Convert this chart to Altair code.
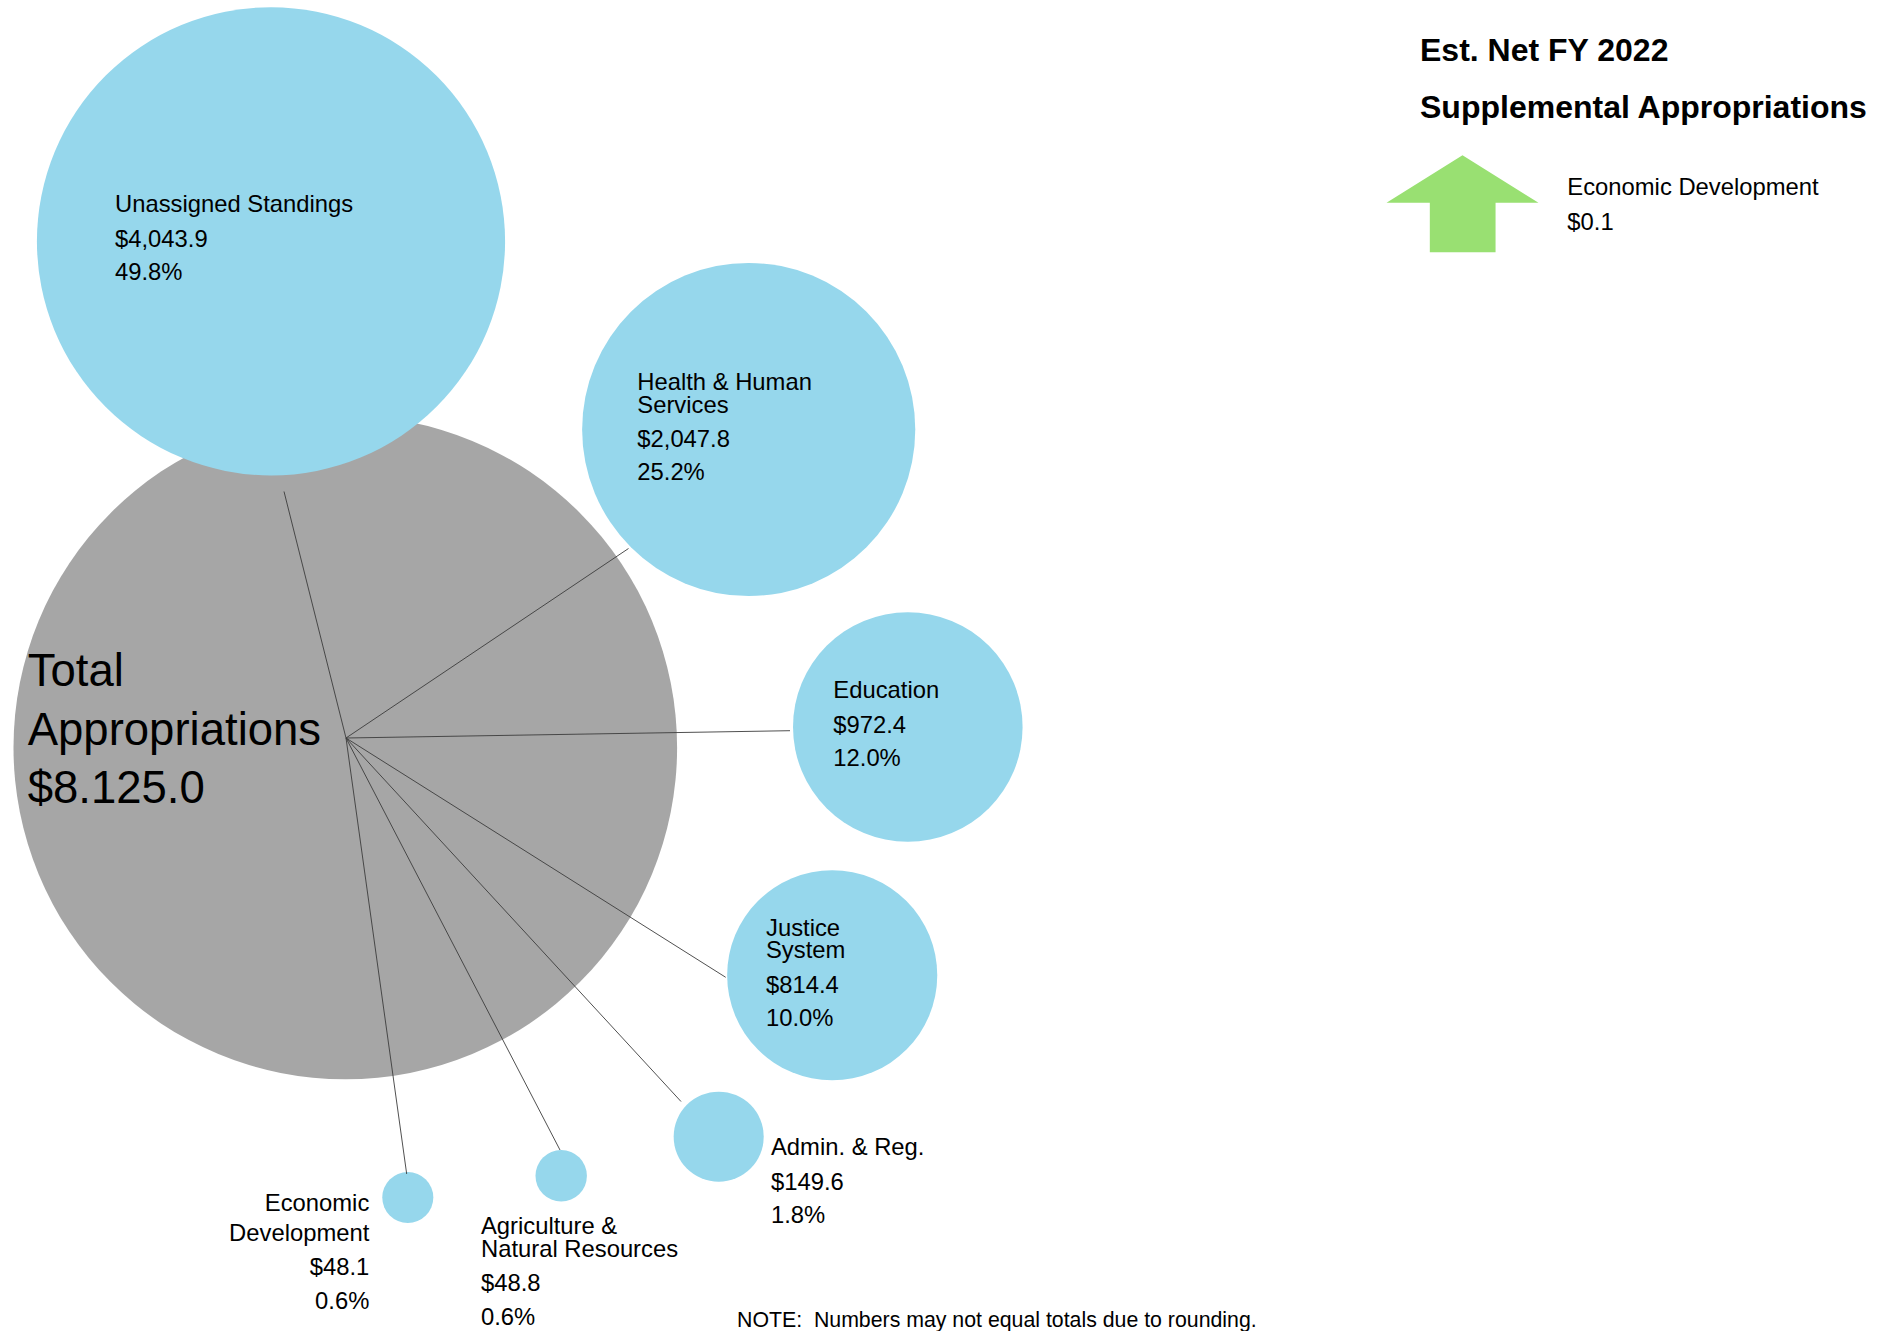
import altair as alt
import pandas as pd

# ---------------- data ----------------
categories = ["Unassigned Standings", "Health & Human\nServices", "Education",
              "Justice\nSystem", "Admin. & Reg.", "Agriculture &\nNatural Resources",
              "Economic\nDevelopment"]
values = [4043.9, 2047.8, 972.4, 814.4, 149.6, 48.8, 48.1]
percents = ["49.8%", "25.2%", "12.0%", "10.0%", "1.8%", "0.6%", "0.6%"]
total_label = ["Total", "Appropriations", "$8.125.0"]
total_value = 8125.0
supp_title = ["Est. Net FY 2022", "Supplemental Appropriations"]
supp_categories = ["Economic Development"]
supp_values = ["$0.1"]
note = "NOTE:\u00a0 Numbers may not equal totals due to rounding."

# ---------------- layout (pixel space) ----------------
W, H = 1887, 1331
centers = [(271, 241.3), (748.7, 429.5), (907.8, 727), (832.2, 975.3),
           (718.7, 1136.7), (561.2, 1175.8), (407.8, 1197.5)]
total_center = (345.3, 747.5)
hub = (346, 738)
line_ends = [(284, 491.5), (628.5, 548.5), (790, 730.7), (725.7, 977.3),
             (681, 1101.5), (560, 1150), (406.7, 1174)]
label_pos = [(115, 212, "left", 22.5), (637.3, 390, "left", 22.5), (833.3, 698.3, "left", 22.5),
             (766, 935.7, "left", 22.5), (771, 1155, "left", 22.5), (481, 1234.3, "left", 22.5),
             (369.3, 1211, "right", 29.7)]
VAL_GAP, PCT_GAP = 34.5, 33.4

BLUE = "#96D7EC"
GRAY = "#A6A6A6"
GREEN = "#99E072"
FONT = "Liberation Sans"

xs = alt.Scale(domain=[0, W], nice=False, zero=False)
ys = alt.Scale(domain=[0, H], nice=False, zero=False, reverse=True)
size_scale = alt.Scale(domain=[0, total_value], range=[0, 54.2 * total_value], zero=True)

# circles
circ = pd.DataFrame({
    "name": ["Total"] + categories,
    "value": [total_value] + values,
    "kind": ["total"] + ["cat"] * len(values),
    "x": [total_center[0]] + [c[0] for c in centers],
    "y": [total_center[1]] + [c[1] for c in centers],
})
circles = alt.Chart(circ).mark_circle(opacity=1, stroke=None).encode(
    x=alt.X("x:Q", scale=xs, axis=None),
    y=alt.Y("y:Q", scale=ys, axis=None),
    size=alt.Size("value:Q", scale=size_scale, legend=None),
    color=alt.Color("kind:N", scale=alt.Scale(domain=["total", "cat"], range=[GRAY, BLUE]), legend=None),
    order=alt.Order("value:Q", sort="descending"),
)

# connector lines
ln = pd.DataFrame({
    "x": [hub[0]] * len(line_ends), "y": [hub[1]] * len(line_ends),
    "x2": [e[0] for e in line_ends], "y2": [e[1] for e in line_ends],
})
lines = alt.Chart(ln).mark_rule(color="#3C3C3C", strokeWidth=0.9).encode(
    x=alt.X("x:Q", scale=xs, axis=None), y=alt.Y("y:Q", scale=ys, axis=None),
    x2="x2:Q", y2="y2:Q",
)

# labels
rows = []
for name, v, p, (lx, ly, al, gap) in zip(categories, values, percents, label_pos):
    yy = ly
    parts = name.split("\n")
    for i, part in enumerate(parts):
        rows.append({"t": part, "x": lx, "y": yy, "align": al})
        if i < len(parts) - 1:
            yy += gap
    yy += VAL_GAP
    rows.append({"t": f"${v:,.1f}", "x": lx, "y": yy, "align": al})
    yy += PCT_GAP
    rows.append({"t": p, "x": lx, "y": yy, "align": al})
lab = pd.DataFrame(rows)

def text_layer(df, align, size, bold=False):
    return alt.Chart(df).mark_text(align=align, baseline="alphabetic", font=FONT,
                                   fontSize=size, fontWeight="bold" if bold else "normal",
                                   color="black").encode(
        x=alt.X("x:Q", scale=xs, axis=None), y=alt.Y("y:Q", scale=ys, axis=None), text="t:N")

lab_left = text_layer(lab[lab["align"] == "left"], "left", 23.8)
lab_right = text_layer(lab[lab["align"] == "right"], "right", 23.8)

tot = pd.DataFrame({"t": total_label, "x": [27.7] * 3, "y": [685.7, 744.6, 803.2]})
tot_text = text_layer(tot, "left", 45.5)

title = pd.DataFrame({"t": supp_title, "x": [1420, 1420], "y": [61, 118.3]})
title_text = text_layer(title, "left", 32, bold=True)

supp = pd.DataFrame({"t": [supp_categories[0], supp_values[0]], "x": [1567.3, 1567.3], "y": [195, 230]})
supp_text = text_layer(supp, "left", 23.8)

notedf = pd.DataFrame({"t": [note], "x": [737], "y": [1327]})
note_text = text_layer(notedf, "left", 21.3)

arrow_path = "M0,-0.638 L1,-0.0145 L0.435,-0.0145 L0.435,0.638 L-0.43,0.638 L-0.43,-0.0145 L-1,-0.0145 Z"
arr = pd.DataFrame({"x": [1462.5], "y": [203.8], "name": supp_categories})
arrow = alt.Chart(arr).mark_point(shape=arrow_path, filled=True, fill=GREEN, opacity=1,
                                  strokeWidth=0, size=152 * 152).encode(
    x=alt.X("x:Q", scale=xs, axis=None), y=alt.Y("y:Q", scale=ys, axis=None))

chart = alt.layer(circles, lines, lab_left, lab_right, tot_text, title_text, supp_text,
                  note_text, arrow).properties(
    width=W, height=H, autosize=alt.AutoSizeParams(type="none"), padding=0,
    background="white",
).configure_view(stroke=None)

chart.save("out.html", embed_options={"renderer": "svg", "actions": False})
